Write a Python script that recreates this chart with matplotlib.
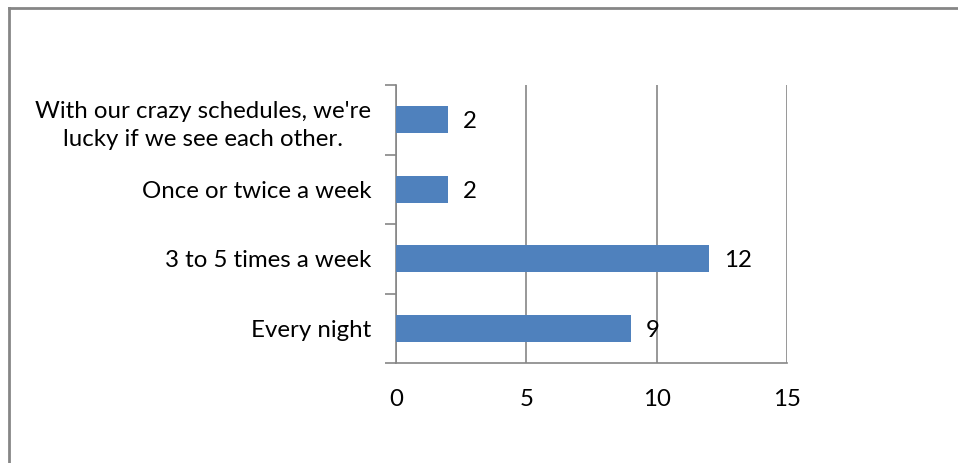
import matplotlib
matplotlib.use("Agg")
import matplotlib.pyplot as plt
from matplotlib.lines import Line2D

categories = ["Every night", "3 to 5 times a week", "Once or twice a week",
              "With our crazy schedules, we're\nlucky if we see each other."]
values = [9, 12, 2, 2]
xticks = [0, 5, 10, 15]

plt.rcParams['font.family'] = ['Lato', 'DejaVu Sans']
W, H = 958, 463
fig = plt.figure(figsize=(W/100, H/100), dpi=100)
ax = fig.add_axes([396/W, 1-363/H, (787-396)/W, (363-85)/H])

FS = 17.3
grey = '#868686'
bars = ax.barh(range(len(categories)), values, height=0.39, color='#4f81bd', zorder=3)
ax.set_xlim(0, 15)
ax.set_ylim(-0.5, len(categories)-0.5)
ax.set_xticks(xticks)
ax.set_xticklabels([str(t) for t in xticks], fontsize=FS)
ax.set_yticks(range(len(categories)))
ax.set_yticklabels(categories, fontsize=FS, linespacing=1.45)
for lab in ax.get_yticklabels():
    lab.set_horizontalalignment('right')
    lab.set_multialignment('center')
ax.tick_params(axis='y', length=0, pad=18)
ax.tick_params(axis='x', length=0, pad=19)
# minor ticks on category boundaries
ax.set_yticks([i-0.5 for i in range(len(categories)+1)], minor=True)
ax.tick_params(axis='y', which='minor', length=8, color=grey, width=1.2, direction='out')
ax.set_xticks(xticks, minor=True)
ax.tick_params(axis='x', which='minor', length=8, color=grey, width=1.2, direction='out')
ax.xaxis.grid(True, color=grey, linewidth=1.2, zorder=0)
for s in ['top', 'right']:
    ax.spines[s].set_visible(False)
for s in ['left', 'bottom']:
    ax.spines[s].set_color(grey)
    ax.spines[s].set_linewidth(1.2)

for b, v in zip(bars, values):
    ax.annotate(str(v), (b.get_width(), b.get_y()+b.get_height()/2),
                xytext=(15, -2), textcoords='offset pixels',
                va='center', ha='left', fontsize=FS)

# figure border (top and left)
fig.add_artist(Line2D([9/W, 9/W], [0, 1-8/H], color=grey, linewidth=2, transform=fig.transFigure))
fig.add_artist(Line2D([9/W, 1], [1-8/H, 1-8/H], color=grey, linewidth=2, transform=fig.transFigure))

fig.savefig("out.png", dpi=100)
